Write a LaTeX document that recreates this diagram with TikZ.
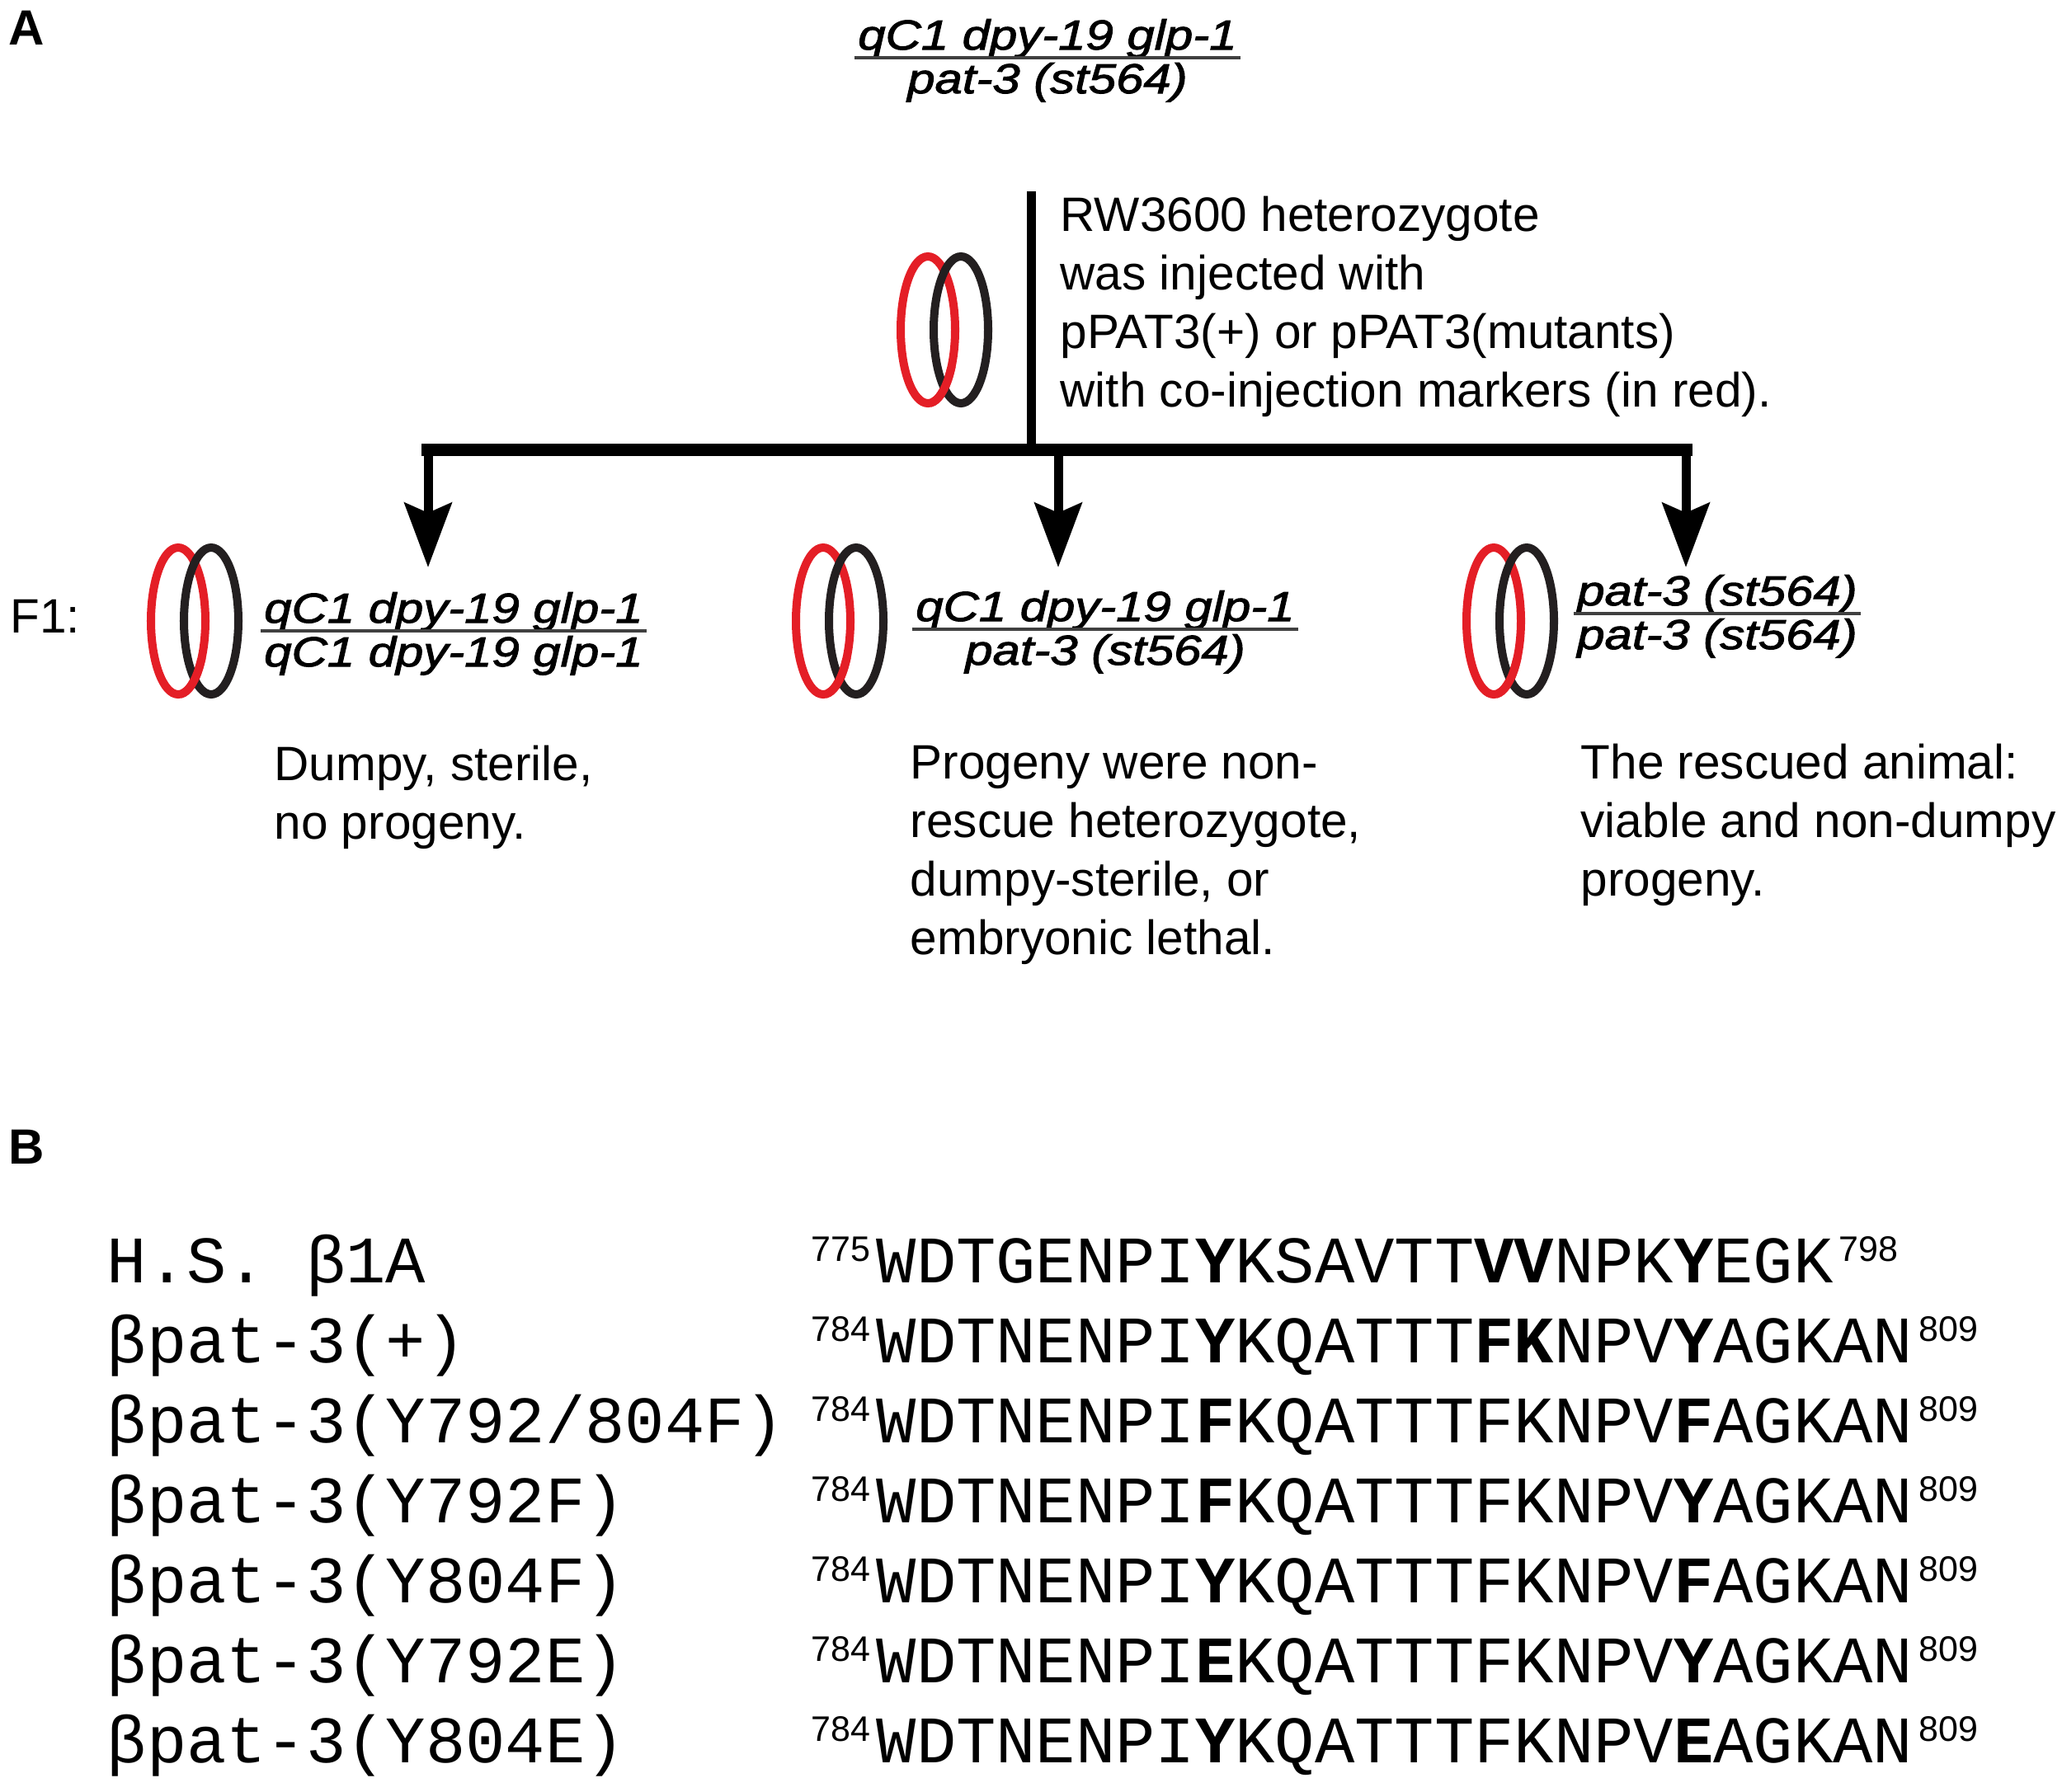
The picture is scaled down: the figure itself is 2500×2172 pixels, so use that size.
\documentclass[tikz,border=0pt]{standalone}
\usepackage{fontspec}
\setmainfont{Liberation Sans}
\newfontfamily\genofont{Liberation Sans}[FakeStretch=1.18,FakeBold=2]
\newfontfamily\monofont{Liberation Mono}
\usetikzlibrary{arrows.meta,calc}
\definecolor{chrred}{RGB}{228,30,38}
\definecolor{chrblack}{RGB}{35,31,32}
\newcommand\descsize{\fontsize{16.64pt}{20.2pt}\selectfont}
\newcommand\genosize{\genofont\itshape\fontsize{14.43pt}{17pt}\selectfont}
\newcommand\monosize{\monofont\fontsize{22.9pt}{27pt}\selectfont}
\newcommand\supsize{\fontsize{12.23pt}{14pt}\selectfont}
\newcommand\panelsize{\bfseries\fontsize{17.07pt}{20pt}\selectfont}
\tikzset{
  desc/.style={anchor=base west, inner sep=0pt, font=\descsize},
  geno/.style={anchor=base, inner sep=0pt, font=\genosize},
  genorule/.style={line width=0.95pt, draw=black!75},
  mono/.style={anchor=base west, inner sep=0pt, font=\monosize},
  supl/.style={anchor=base east, inner sep=0pt, font=\supsize},
  supr/.style={anchor=base west, inner sep=0pt, font=\supsize},
  panel/.style={anchor=base west, inner sep=0pt, font=\panelsize},
  arr/.style={line width=3.13pt, -{Stealth[length=22.2pt,width=16.2pt,inset=3.4pt]}},
  stem/.style={line width=3.13pt},
  barline/.style={line width=4.27pt, line cap=rect},
  chrR/.style={draw=chrred, line width=2.85pt},
  chrB/.style={draw=chrblack, line width=2.85pt}
}
\newcommand\chrpair[2]{%
  \draw[chrR] (#1,#2) ellipse [x radius=33, y radius=89];
  \draw[chrB] (#1+40,#2) ellipse [x radius=33, y radius=89];
  \begin{scope}
    \clip (#1+4,#2+45) rectangle (#1+36,#2+96);
    \draw[chrR] (#1,#2) ellipse [x radius=33, y radius=89];
  \end{scope}}
\begin{document}
\begin{tikzpicture}[x=0.01cm, y=-0.01cm]
\fill[white] (0,0) rectangle (2500,2172);
\useasboundingbox (0,0) rectangle (2500,2172);

% panel labels
\node[panel] (pA) at (10,54) {A};
\node[panel] (pB) at (10,1411) {B};

% parent genotype
\node[geno] (p1) at (1270,60) {qC1 dpy-19 glp-1};
\node[geno] (p2) at (1270,113) {pat-3 (st564)};
\draw[genorule] ($(p1.base west)+(-4,10)$) -- ($(p1.base east)+(4,10)$);

% cross lines
\coordinate (vtop) at (1250,232);
\coordinate (junc) at (1250,545);
\coordinate (bl) at (519,545);
\coordinate (bm) at (1283,545);
\coordinate (br) at (2044,545);
\coordinate (tl) at (519,688);
\coordinate (tm) at (1283,688);
\coordinate (tr) at (2044,688);
\draw[stem] (vtop) -- (junc);
\draw[barline] (bl) -- (br);
\draw[arr] (bl) -- (tl);
\draw[arr] (bm) -- (tm);
\draw[arr] (br) -- (tr);

\chrpair{1125}{400}

\node[desc] (d1) at (1285,280) {RW3600 heterozygote};
\node[desc] (d2) at (1285,351) {was injected with};
\node[desc] (d3) at (1285,422) {pPAT3(+) or pPAT3(mutants)};
\node[desc] (d4) at (1285,493) {with co-injection markers (in red).};

% F1
\node[desc] (f1) at (12,767) {F1:};

\chrpair{216}{753}
\node[geno] (g1t) at (550,755) {qC1 dpy-19 glp-1};
\node[geno] (g1b) at (550,808) {qC1 dpy-19 glp-1};
\draw[genorule] ($(g1t.base west)+(-4,10)$) -- ($(g1t.base east)+(4,10)$);

\chrpair{998}{753}
\node[geno] (g2t) at (1340,753) {qC1 dpy-19 glp-1};
\node[geno] (g2b) at (1340,806) {pat-3 (st564)};
\draw[genorule] ($(g2t.base west)+(-4,10)$) -- ($(g2t.base east)+(4,10)$);

\chrpair{1811}{753}
\node[geno] (g3t) at (2082,734) {pat-3 (st564)};
\node[geno] (g3b) at (2082,787) {pat-3 (st564)};
\draw[genorule] ($(g3t.base west)+(-4,10)$) -- ($(g3t.base east)+(4,10)$);

\node[desc] (r1a) at (332,946) {Dumpy, sterile,};
\node[desc] (r1b) at (332,1017) {no progeny.};

\node[desc] (r2a) at (1103,944) {Progeny were non-};
\node[desc] (r2b) at (1103,1015) {rescue heterozygote,};
\node[desc] (r2c) at (1103,1086) {dumpy-sterile, or};
\node[desc] (r2d) at (1103,1157) {embryonic lethal.};

\node[desc] (r3a) at (1916,944) {The rescued animal:};
\node[desc] (r3b) at (1916,1015) {viable and non-dumpy};
\node[desc] (r3c) at (1916,1086) {progeny.};

% panel B
\node[mono] (l1) at (129,1555) {H.S. β1A};
\node[mono] (l2) at (129,1652) {βpat-3(+)};
\node[mono] (l3) at (129,1749) {βpat-3(Y792/804F)};
\node[mono] (l4) at (129,1846) {βpat-3(Y792F)};
\node[mono] (l5) at (129,1943) {βpat-3(Y804F)};
\node[mono] (l6) at (129,2040) {βpat-3(Y792E)};
\node[mono] (l7) at (129,2137) {βpat-3(Y804E)};

\node[mono] (s1) at (1062,1555) {WDTGENPI\textbf{Y}KSAVTT\textbf{VV}NPK\textbf{Y}EGK};
\node[mono] (s2) at (1062,1652) {WDTNENPI\textbf{Y}KQATTT\textbf{FK}NPV\textbf{Y}AGKAN};
\node[mono] (s3) at (1062,1749) {WDTNENPI\textbf{F}KQATTTFKNPV\textbf{F}AGKAN};
\node[mono] (s4) at (1062,1846) {WDTNENPI\textbf{F}KQATTTFKNPV\textbf{Y}AGKAN};
\node[mono] (s5) at (1062,1943) {WDTNENPI\textbf{Y}KQATTTFKNPV\textbf{F}AGKAN};
\node[mono] (s6) at (1062,2040) {WDTNENPI\textbf{E}KQATTTFKNPV\textbf{Y}AGKAN};
\node[mono] (s7) at (1062,2137) {WDTNENPI\textbf{Y}KQATTTFKNPV\textbf{E}AGKAN};

\node[supl] (a1) at ($(s1.base west)+(-6,-26)$) {775};
\node[supr] (b1) at ($(s1.base east)+(6,-26)$) {798};
\node[supl] (a2) at ($(s2.base west)+(-6,-26)$) {784};
\node[supr] (b2) at ($(s2.base east)+(6,-26)$) {809};
\node[supl] (a3) at ($(s3.base west)+(-6,-26)$) {784};
\node[supr] (b3) at ($(s3.base east)+(6,-26)$) {809};
\node[supl] (a4) at ($(s4.base west)+(-6,-26)$) {784};
\node[supr] (b4) at ($(s4.base east)+(6,-26)$) {809};
\node[supl] (a5) at ($(s5.base west)+(-6,-26)$) {784};
\node[supr] (b5) at ($(s5.base east)+(6,-26)$) {809};
\node[supl] (a6) at ($(s6.base west)+(-6,-26)$) {784};
\node[supr] (b6) at ($(s6.base east)+(6,-26)$) {809};
\node[supl] (a7) at ($(s7.base west)+(-6,-26)$) {784};
\node[supr] (b7) at ($(s7.base east)+(6,-26)$) {809};
\end{tikzpicture}
\end{document}
